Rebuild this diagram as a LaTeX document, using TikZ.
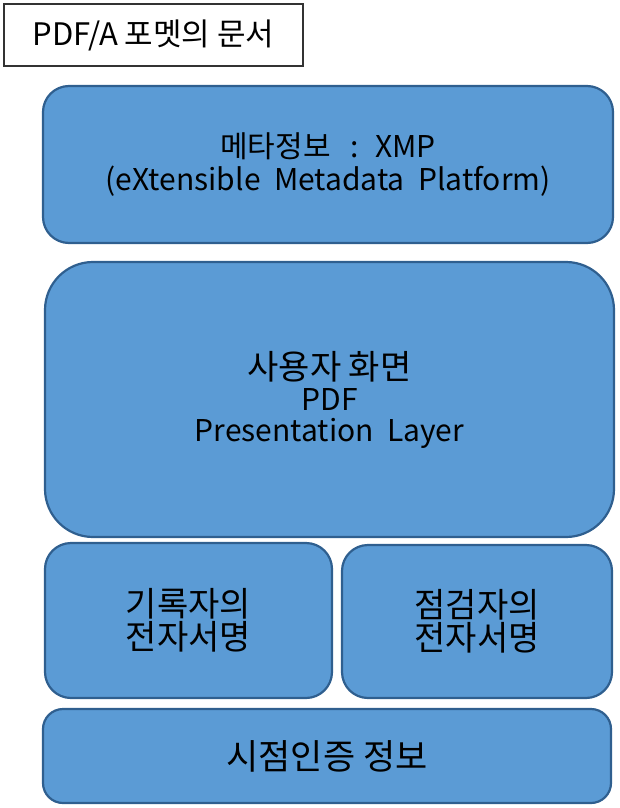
\documentclass[tikz,border=0pt]{standalone}
\usepackage{fontspec}
\setmainfont{Noto Sans CJK KR}
\begin{document}
\begin{tikzpicture}[x=1pt,y=-1pt,
  layer/.style={draw=boxborder,line width=2.2pt,fill=boxfill,align=center,inner sep=0pt},
  title/.style={draw=black!80,line width=1.2pt,fill=white,inner sep=0pt,font=\fontsize{31}{34}\selectfont}]
\definecolor{boxfill}{HTML}{5B9BD5}
\definecolor{boxborder}{HTML}{2F5F8F}
\useasboundingbox (0,0) rectangle (620,808);
\node[title,minimum width=299pt,minimum height=62pt] (ttl) at (153.5,35) {PDF/A\ 포멧의\ 문서};
\node[layer,rounded corners=26pt,minimum width=570pt,minimum height=157pt,font=\fontsize{30}{33}\selectfont] (xmp) at (328,164.5)
  {메타정보\hspace{20pt}:\hspace{16pt}XMP\\(eXtensible\ \ Metadata\ \ Platform)};
\node[layer,rounded corners=48pt,minimum width=569pt,minimum height=275pt,font=\fontsize{30}{31}\selectfont] (pres) at (329.5,399.5)
  {{\fontsize{34}{31}\selectfont 사용자\ 화면}\\PDF\\Presentation\ \ Layer};
\node[layer,rounded corners=26pt,minimum width=287pt,minimum height=155pt,font=\fontsize{34}{33}\selectfont] (rec) at (188.5,620.5)
  {기록자의\\전자서명};
\node[layer,rounded corners=26pt,minimum width=270pt,minimum height=153pt,font=\fontsize{34}{33}\selectfont] (chk) at (477,621.5)
  {점검자의\\전자서명};
\node[layer,rounded corners=20pt,minimum width=568pt,minimum height=94pt,font=\fontsize{35}{38}\selectfont] (ts) at (327,756)
  {시점인증\ 정보};
\end{tikzpicture}
\end{document}
